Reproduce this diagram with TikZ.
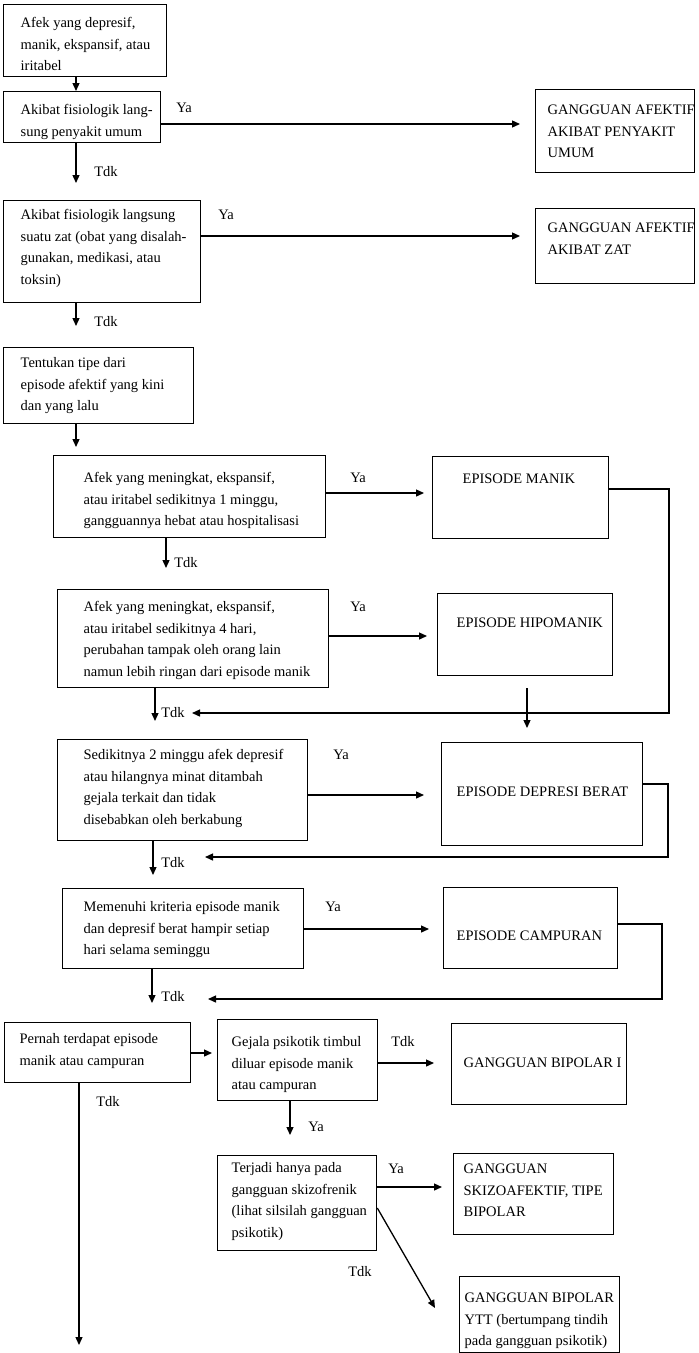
\documentclass[tikz,border=0pt]{standalone}
\usepackage{fontspec}
\setmainfont{Liberation Serif}
\usetikzlibrary{arrows.meta}
% box text: width, height, left pad, top pad, lines
\newcommand{\bxt}[5]{\parbox[c][#2pt][t]{#1pt}{\vspace*{#4pt}\hspace*{#3pt}\begin{tabular}[t]{@{}l@{}}#5\end{tabular}}}
\begin{document}
\begin{tikzpicture}[x=1pt,y=-1pt,
  box/.style={draw, line width=1.3pt, inner sep=0pt, anchor=north west, font=\fontsize{14.5}{21.5}\selectfont},
  lbl/.style={inner sep=0pt, font=\fontsize{14.5}{21.5}\selectfont},
  arr/.style={line width=1.3pt, -{Triangle[length=8pt,width=7pt]}}]
\useasboundingbox (0,0) rectangle (699,1353);
% ---- boxes ----
\node[box] (b1) at (3,4) {\bxt{163}{72}{17}{8}{Afek yang depresif,\\manik, ekspansif, atau\\iritabel}};
\node[box] (b2) at (3,91) {\bxt{157}{51}{17}{8}{Akibat fisiologik lang-\\sung penyakit umum}};
\node[box] (ga1) at (535,89) {\bxt{159}{83}{12}{10}{GANGGUAN AFEKTIF\\AKIBAT PENYAKIT\\UMUM}};
\node[box] (b3) at (3,200) {\bxt{197}{102}{17}{4}{Akibat fisiologik langsung\\suatu zat (obat yang disalah-\\gunakan, medikasi, atau\\toksin)}};
\node[box] (ga2) at (535,208) {\bxt{159}{75}{12}{9}{GANGGUAN AFEKTIF\\AKIBAT ZAT}};
\node[box] (b4) at (3,347) {\bxt{190}{76}{17}{5}{Tentukan tipe dari\\episode afektif yang kini\\dan yang lalu}};
\node[box] (b5) at (53,455) {\bxt{272}{82}{30}{12}{Afek yang meningkat, ekspansif,\\atau iritabel sedikitnya 1 minggu,\\gangguannya hebat atau hospitalisasi}};
\node[box] (man) at (432,456) {\bxt{176}{82}{30}{12}{EPISODE MANIK}};
\node[box] (b6) at (57,589) {\bxt{271}{98}{26}{7}{Afek yang meningkat, ekspansif,\\atau iritabel sedikitnya 4 hari,\\perubahan tampak oleh orang lain\\namun lebih ringan dari episode manik}};
\node[box] (hip) at (437,593) {\bxt{175}{82}{19}{19}{EPISODE HIPOMANIK}};
\node[box] (b7) at (57,739) {\bxt{250}{101}{26}{5}{Sedikitnya 2 minggu afek depresif\\atau hilangnya minat ditambah\\gejala terkait dan tidak\\disebabkan oleh berkabung}};
\node[box] (dep) at (441,742) {\bxt{201}{103}{15}{39}{EPISODE DEPRESI BERAT}};
\node[box] (b8) at (62,888) {\bxt{241}{80}{21}{8}{Memenuhi kriteria episode manik\\dan depresif berat hampir setiap\\hari selama seminggu}};
\node[box] (cam) at (443,887) {\bxt{174}{81}{13}{38}{EPISODE CAMPURAN}};
\node[box] (b9) at (4,1022) {\bxt{186}{60}{15}{6}{Pernah terdapat episode\\manik atau campuran}};
\node[box] (b10) at (217,1019) {\bxt{160}{81}{14}{12}{Gejala psikotik timbul\\diluar episode manik\\atau campuran}};
\node[box] (bp1) at (451,1023) {\bxt{175}{81}{12}{29}{GANGGUAN BIPOLAR I}};
\node[box] (b11) at (217,1155) {\bxt{159}{95}{14}{2}{Terjadi hanya pada\\gangguan skizofrenik\\(lihat silsilah gangguan\\psikotik)}};
\node[box] (skz) at (453,1153) {\bxt{160}{81}{10}{5}{GANGGUAN\\SKIZOAFEKTIF, TIPE\\BIPOLAR}};
\node[box] (ytt) at (459,1276) {\bxt{160}{76}{5}{11}{GANGGUAN BIPOLAR\\YTT (bertumpang tindih\\pada gangguan psikotik)}};
% ---- helper coordinates ----
\coordinate (cA) at (76,0);
\coordinate (m1) at (192,713);
\coordinate (r1) at (669,713);
\coordinate (m2) at (205,857);
\coordinate (r2) at (668,857);
\coordinate (m3) at (208,999);
\coordinate (r3) at (662,999);
\coordinate (e1) at (79,1345);
\coordinate (t1) at (435,1308);
% ---- connectors ----
\draw[arr] (b1.south -| cA) -- (b2.north -| cA);
\draw[arr, shorten >=15pt] (b2.east |- 0,124) -- (ga1.west |- 0,124);
\draw[arr, shorten >=17pt] (b2.south -| cA) -- (b3.north -| cA);
\draw[arr, shorten >=15pt] (b3.east |- 0,236) -- (ga2.west |- 0,236);
\draw[arr, shorten >=21pt] (b3.south -| cA) -- (b4.north -| cA);
\draw[arr, shorten >=8pt] (b4.south -| cA) -- (b5.north -| cA);
\draw[arr, shorten >=8pt] (b5.east |- 0,493) -- (man.west |- 0,493);
\draw[arr, shorten >=21pt] (b5.south -| 166,0) -- (b6.north -| 166,0);
\draw[arr] (man.east |- 0,489) -| (r1) -- (m1);
\draw[arr, shorten >=10pt] (b6.east |- 0,636) -- (hip.west |- 0,636);
\draw[arr, shorten <=12pt, shorten >=14pt] (hip.south -| 527,0) -- (dep.north -| 527,0);
\draw[arr, shorten >=18pt] (b6.south -| 155,0) -- (b7.north -| 155,0);
\draw[arr, shorten >=17pt] (b7.east |- 0,795) -- (dep.west |- 0,795);
\draw[arr] (dep.east |- 0,784) -| (r2) -- (m2);
\draw[arr, shorten >=13pt] (b7.south -| 153,0) -- (b8.north -| 153,0);
\draw[arr, shorten >=14pt] (b8.east |- 0,929) -- (cam.west |- 0,929);
\draw[arr] (cam.east |- 0,924) -| (r3) -- (m3);
\draw[arr, shorten >=19pt] (b8.south -| 152,0) -- (b9.north -| 152,0);
\draw[arr, shorten >=5pt] (b9.east |- 0,1053) -- (b10.west |- 0,1053);
\draw[arr] (b9.south -| e1) -- (e1);
\draw[arr, shorten >=17pt] (b10.east |- 0,1063) -- (bp1.west |- 0,1063);
\draw[arr, shorten >=20pt] (b10.south -| 290,0) -- (b11.north -| 290,0);
\draw[arr, shorten >=11pt] (b11.east |- 0,1187) -- (skz.west |- 0,1187);
\draw[arr] (b11.east |- 0,1208) -- (t1);
% ---- labels ----
\node[lbl] (l1) at (184,108) {Ya};
\node[lbl] (l2) at (106,172) {Tdk};
\node[lbl] (l3) at (226,215) {Ya};
\node[lbl] (l4) at (106,322) {Tdk};
\node[lbl] (l5) at (358,478) {Ya};
\node[lbl] (l6) at (186,563) {Tdk};
\node[lbl] (l7) at (358,607) {Ya};
\node[lbl] (l8) at (173,713) {Tdk};
\node[lbl] (l9) at (341,755) {Ya};
\node[lbl] (l10) at (173,863) {Tdk};
\node[lbl] (l11) at (333,907) {Ya};
\node[lbl] (l12) at (173,997) {Tdk};
\node[lbl] (l13) at (108,1102) {Tdk};
\node[lbl] (l14) at (403,1042) {Tdk};
\node[lbl] (l15) at (316,1127) {Ya};
\node[lbl] (l16) at (396,1169) {Ya};
\node[lbl] (l17) at (360,1272) {Tdk};
\end{tikzpicture}
\end{document}
